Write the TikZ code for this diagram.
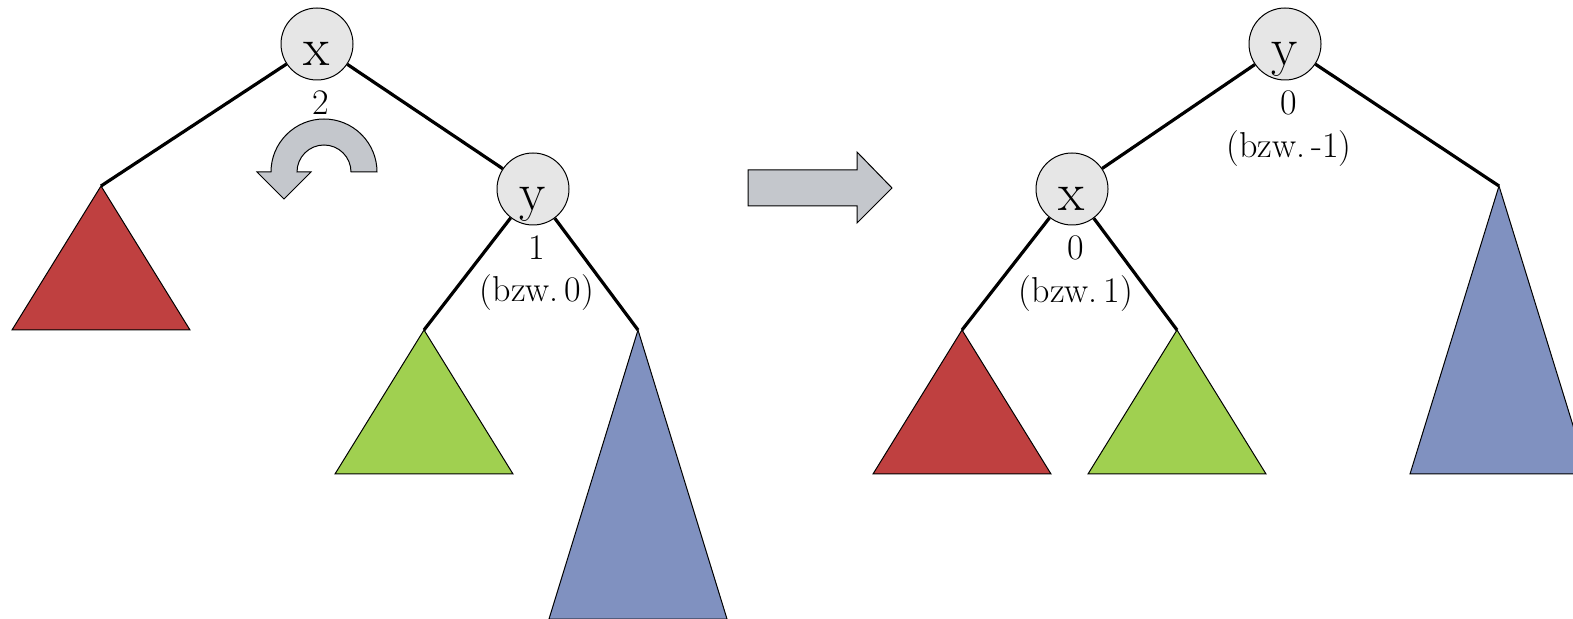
\documentclass[tikz,border=0pt]{standalone}
\usepackage{fontspec}
\usetikzlibrary{positioning}
\definecolor{subred}{RGB}{191,64,64}
\definecolor{subgreen}{RGB}{160,208,80}
\definecolor{subblue}{RGB}{128,145,192}
\definecolor{knotgray}{RGB}{230,230,230}
\definecolor{rotgray}{RGB}{196,199,204}

\begin{document}
\begin{tikzpicture}[
    x=0.5pt, y=0.5pt,
    knot/.style     = {circle, draw=black, line width=0.5pt, fill=knotgray,
                       minimum size=36pt, inner sep=1pt, text height=22pt,
                       text depth=0pt, font=\fontsize{27}{27}\selectfont},
    balance/.style  = {inner sep=0pt, font=\fontsize{18}{18}\selectfont},
    edge/.style     = {line width=1.6pt},
    subtree/.style  = {draw=black, line width=0.5pt},
    bigarrow/.style = {draw=black, line width=0.5pt, fill=rotgray},
]
\useasboundingbox (0,-619) rectangle (1573,0);
\clip (0,-619) rectangle (1573,0);

% Left tree (before rotation)
\node[knot] (xl) at (317,-44)  {x};
\node[knot] (yl) at (533,-189) {y};
\coordinate (al) at (101,-186);
\coordinate (bl) at (424,-330);
\coordinate (cl) at (638,-330);

% Right tree (after rotation)
\node[knot] (yr) at (1285,-44)  {y};
\node[knot] (xr) at (1072,-189) {x};
\coordinate (ar) at (962,-330);
\coordinate (br) at (1177,-330);
\coordinate (cr) at (1499,-186);

% Subtrees
\foreach \apex/\col/\h in {al/subred/144, bl/subgreen/144, cl/subblue/289,
                           ar/subred/144, br/subgreen/144, cr/subblue/288}
  \draw[subtree, fill=\col] (\apex) -- ++(-89,-\h) -- ++(178,0) -- cycle;

% Edges
\draw[edge] (xl) -- (al);
\draw[edge] (xl) -- (yl);
\draw[edge] (yl) -- (bl);
\draw[edge] (yl) -- (cl);
\draw[edge] (yr) -- (xr);
\draw[edge] (yr) -- (cr);
\draw[edge] (xr) -- (ar);
\draw[edge] (xr) -- (br);

% Balance factors
\node[balance, below=5pt of xl, xshift=2pt] (bxl)  {2};
\node[balance, below=5pt of yl, xshift=2pt] (byl)  {1};
\node[balance, below=7pt of byl]            (byl2) {(bzw.\,0)};
\node[balance, below=5pt of yr, xshift=2pt] (byr)  {0};
\node[balance, below=7pt of byr]            (byr2) {(bzw.\,-1)};
\node[balance, below=5pt of xr, xshift=2pt] (bxr)  {0};
\node[balance, below=7pt of bxr]            (bxr2) {(bzw.\,1)};

% Rotation arrow
\draw[bigarrow] (351,-172) -- (377,-172) arc[start angle=0, end angle=180, radius=26.5pt]
  -- (257,-172) -- (284,-199) -- (311,-172) -- (297,-172)
  arc[start angle=180, end angle=0, radius=13.5pt] -- cycle;

% Transition arrow
\draw[bigarrow] (748,-170) -- (857,-170) -- (857,-152) -- (892,-188)
  -- (857,-223) -- (857,-206) -- (748,-206) -- cycle;

\end{tikzpicture}
\end{document}
